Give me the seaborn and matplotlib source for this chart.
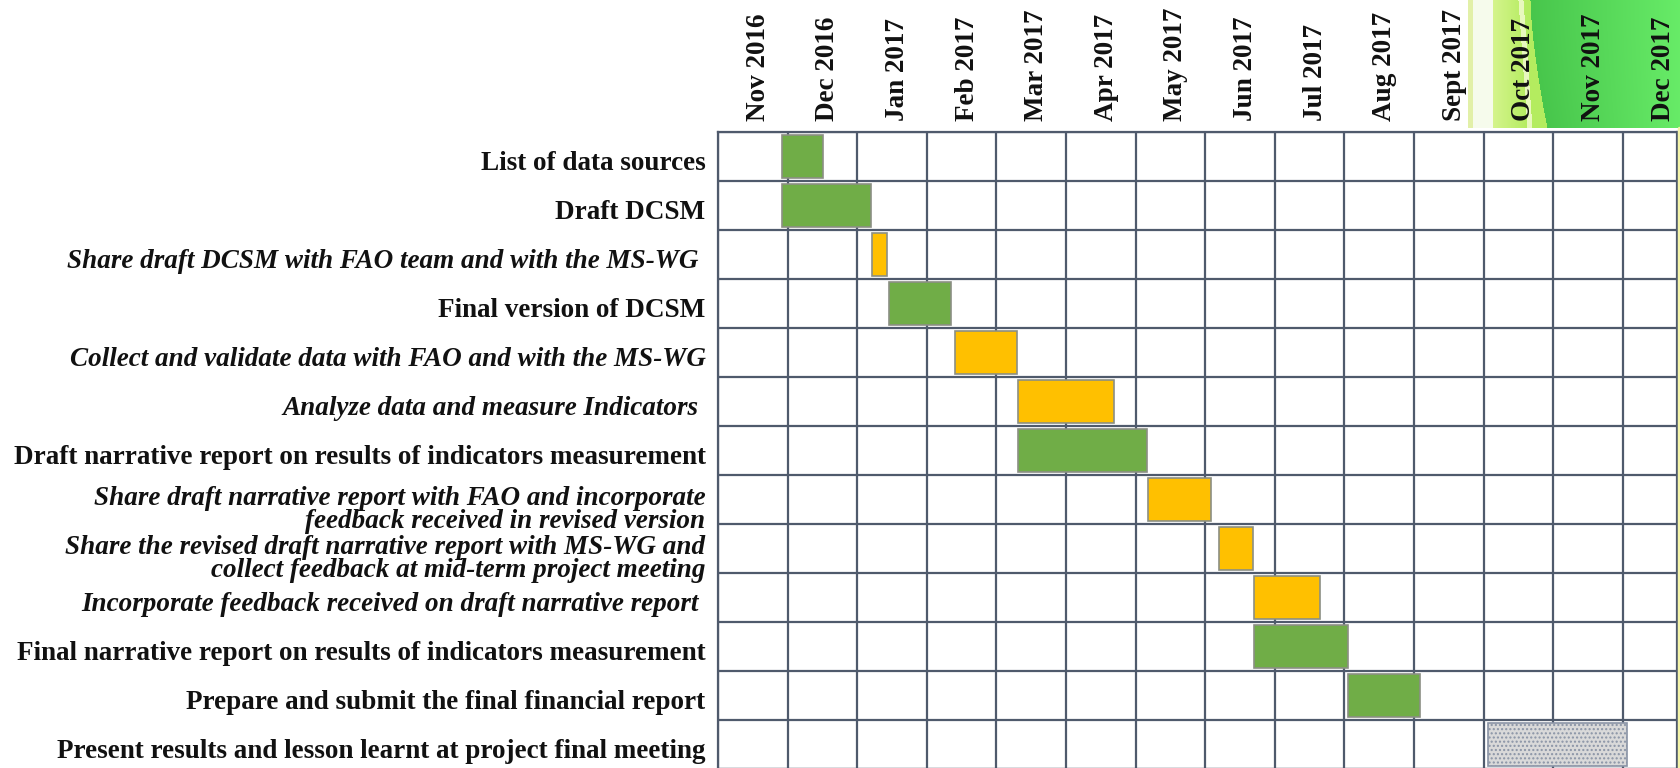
import numpy as np
import matplotlib
matplotlib.use("Agg")
import matplotlib.pyplot as plt
import seaborn as sns
from matplotlib.lines import Line2D

# Data
months = ['Nov 2016', 'Dec 2016', 'Jan 2017', 'Feb 2017', 'Mar 2017', 'Apr 2017',
          'May 2017', 'Jun 2017', 'Jul 2017', 'Aug 2017', 'Sept 2017',
          'Oct 2017', 'Nov 2017', 'Dec 2017']
tasks = [
    'List of data sources',
    'Draft DCSM',
    'Share draft DCSM with FAO team and with the MS-WG ',
    'Final version of DCSM',
    'Collect and validate data with FAO and with the MS-WG',
    'Analyze data and measure Indicators ',
    'Draft narrative report on results of indicators measurement',
    'Share draft narrative report with FAO and incorporate\nfeedback received in revised version',
    'Share the revised draft narrative report with MS-WG and\ncollect feedback at mid-term project meeting',
    'Incorporate feedback received on draft narrative report ',
    'Final narrative report on results of indicators measurement',
    'Prepare and submit the final financial report',
    'Present results and lesson learnt at project final meeting',
]
# start / end in months from start of Nov 2016
starts = [0.92, 0.92, 2.21, 2.45, 3.41, 4.31, 4.31, 6.18, 7.20, 7.70, 7.70, 9.05, 11.06]
ends = [1.51, 2.20, 2.43, 3.35, 4.30, 5.69, 6.16, 7.08, 7.69, 8.65, 9.05, 10.09, 13.06]
kinds = ['output', 'output', 'consult', 'output', 'consult', 'consult', 'output',
         'consult', 'consult', 'consult', 'output', 'output', 'planned']

colors = {'output': '#70AD47', 'consult': '#FFC000', 'planned': '#D9D9D9'}
grid_color = '#4f5a6c'

sns.set_theme(style="white")
plt.rcParams['font.family'] = ['Liberation Serif', 'DejaVu Serif']
plt.rcParams['hatch.color'] = '#b8b8b8'

W_PX, H_PX = 1681, 768
fig = plt.figure(figsize=(W_PX / 100, H_PX / 100), dpi=100)

# table geometry (pixels)
col_w, row_h = 69.6, 49.0
x0, y_top = 718, 132
xmax = 13.78
ax = fig.add_axes([x0 / W_PX, (H_PX - (y_top + 13 * row_h)) / H_PX,
                   xmax * col_w / W_PX, 13 * row_h / H_PX])

# green decoration in the top right corner
gx0, gH = 1468, 128
gW = W_PX - gx0
yy, xx = np.mgrid[0:gH, 0:gW].astype(float)
b = 62 + 17 * (yy / gH) ** 1.5
img = np.zeros((gH, gW, 3))
img[:] = np.array([246, 251, 236])
yg = (xx >= 25) & (xx < b)
f = np.clip((xx - 25) / 35, 0, 1)[..., None]
img[yg] = ((1 - f) * np.array([212, 244, 140]) + f * np.array([180, 236, 95]))[yg]
st = 50 + 9 * (yy / gH)
streak = (xx >= st) & (xx < st + 5)
img[streak] = [232, 248, 190]
gr = xx >= b
g = np.clip((xx - b) / (gW - b + 1), 0, 1)[..., None]
img[gr] = ((1 - g) * np.array([72, 198, 76]) + g * np.array([104, 236, 104]))[gr]
img[:, :5] = [226, 240, 168]
gax = fig.add_axes([gx0 / W_PX, (H_PX - gH) / H_PX, gW / W_PX, gH / H_PX], zorder=-5)
gax.imshow(img / 255, aspect='auto', interpolation='bilinear')
gax.axis('off')
fig.add_artist(Line2D([1679.5 / W_PX] * 2, [0, (H_PX - gH) / H_PX],
                      color='#f3f3a8', lw=2.5))

# bars
for i, (s, e, k) in enumerate(zip(starts, ends, kinds)):
    if k == 'planned':
        ax.barh(i + 0.5, e - s, left=s, height=0.88, color=colors[k],
                edgecolor='#8a94a6', hatch='....', lw=1.2, zorder=3)
    else:
        ax.barh(i + 0.5, e - s, left=s, height=0.88, color=colors[k],
                edgecolor='#8b8f84', lw=1.2, zorder=3)

ax.set_xlim(0, xmax)
ax.set_ylim(13, 0)

# grid on minor ticks, labels on major ticks
ax.set_xticks(np.arange(0, 14), minor=True)
ax.set_yticks(np.arange(0, 14), minor=True)
ax.set_xticks(np.arange(14) + 0.58)
ax.set_xticklabels(months, rotation=90, fontsize=19.5, fontweight='bold')
label_y = [i + 0.58 + (0.1 if '\n' in t else 0) for i, t in enumerate(tasks)]
ax.set_yticks(label_y)
ax.set_yticklabels(tasks, fontsize=19.5, fontweight='bold', linespacing=0.88)
ax.xaxis.tick_top()
ax.tick_params(axis='x', which='both', length=0, pad=8)
ax.tick_params(axis='y', which='both', length=0, pad=9)
ax.grid(which='minor', color=grid_color, lw=1.6)
ax.grid(which='major', visible=False)
for lab, k in zip(ax.get_yticklabels(), kinds):
    if k == 'consult':
        lab.set_fontstyle('italic')
    lab.set_color('#111111')
for lab in ax.get_xticklabels():
    lab.set_color('#111111')
for sp in ax.spines.values():
    sp.set_color(grid_color)
    sp.set_linewidth(1.6)

fig.savefig('out.png', dpi=100)
